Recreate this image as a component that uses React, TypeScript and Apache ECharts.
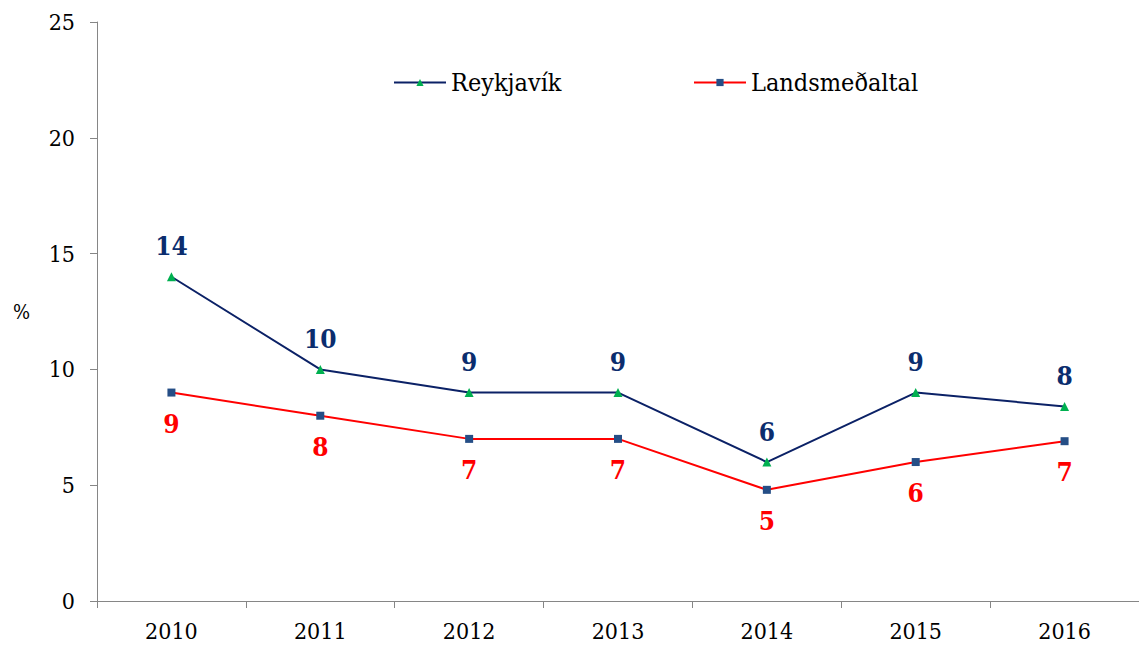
import React, { useEffect, useRef } from "react";
import * as echarts from "echarts";

const years = ["2010", "2011", "2012", "2013", "2014", "2015", "2016"];
const reykjavik = [14, 10, 9, 9, 6, 9, 8.4];
const landsmedaltal = [9, 8, 7, 7, 4.8, 6, 6.9];
const yTicks = { min: 0, max: 25, interval: 5 };

const FONT = "DejaVu Serif Condensed";

export default function App() {
  const ref = useRef<HTMLDivElement>(null);
  useEffect(() => {
    const chart = echarts.init(ref.current!, null, { renderer: "svg" });
    const legendBase = {
      top: 65,
      itemWidth: 52,
      itemHeight: 9,
      itemGap: 7,
      textStyle: { fontFamily: FONT, fontSize: 25, color: "#000" },
    };
    chart.setOption({
      animation: false,
      textStyle: { fontFamily: FONT },
      grid: { left: 97, right: 0, top: 22, bottom: 47, containLabel: false },
      legend: [
        { ...legendBase, left: 388, data: ["Reykjavík"] },
        { ...legendBase, left: 688, data: ["Landsmeðaltal"] },
      ],
      xAxis: {
        type: "category",
        data: years,
        boundaryGap: true,
        axisLine: { lineStyle: { color: "#868686", width: 1 } },
        axisTick: { show: true, length: 7, inside: false, lineStyle: { color: "#868686" } },
        axisLabel: { fontFamily: FONT, fontSize: 23, color: "#000", margin: 18 },
        splitLine: { show: false },
      },
      yAxis: {
        type: "value",
        min: yTicks.min,
        max: yTicks.max,
        interval: yTicks.interval,
        name: "%",
        nameLocation: "middle",
        nameRotate: 0,
        nameGap: 67,
        nameTextStyle: { fontFamily: FONT, fontSize: 20, color: "#000", padding: [0, 0, 6, 0] },
        axisLine: { show: true, lineStyle: { color: "#868686", width: 1 } },
        axisTick: { show: true, length: 7, inside: false, lineStyle: { color: "#868686" } },
        axisLabel: { fontFamily: FONT, fontSize: 23, color: "#000", margin: 22 },
        splitLine: { show: false },
      },
      series: [
        {
          name: "Reykjavík",
          type: "line",
          data: reykjavik,
          symbol: "triangle",
          symbolSize: 9,
          itemStyle: { color: "#00B050" },
          lineStyle: { color: "#0B2166", width: 2 },
          label: {
            show: true,
            position: "top",
            distance: 13,
            fontFamily: FONT,
            fontSize: 26,
            fontWeight: "bold",
            color: "#0B2D6E",
            formatter: (p: any) => String(Math.round(p.value)),
          },
        },
        {
          name: "Landsmeðaltal",
          type: "line",
          data: landsmedaltal,
          symbol: "rect",
          symbolSize: 8,
          itemStyle: { color: "#254E86" },
          lineStyle: { color: "#FF0000", width: 2 },
          label: {
            show: true,
            position: "bottom",
            distance: 14,
            fontFamily: FONT,
            fontSize: 26,
            fontWeight: "bold",
            color: "#FF0000",
            formatter: (p: any) => String(Math.round(p.value)),
          },
        },
      ],
    });
    return () => chart.dispose();
  }, []);
  return (
    <div
      ref={ref}
      style={{ position: "fixed", left: 0, top: 0, width: 1139, height: 648, background: "#fff" }}
    />
  );
}
